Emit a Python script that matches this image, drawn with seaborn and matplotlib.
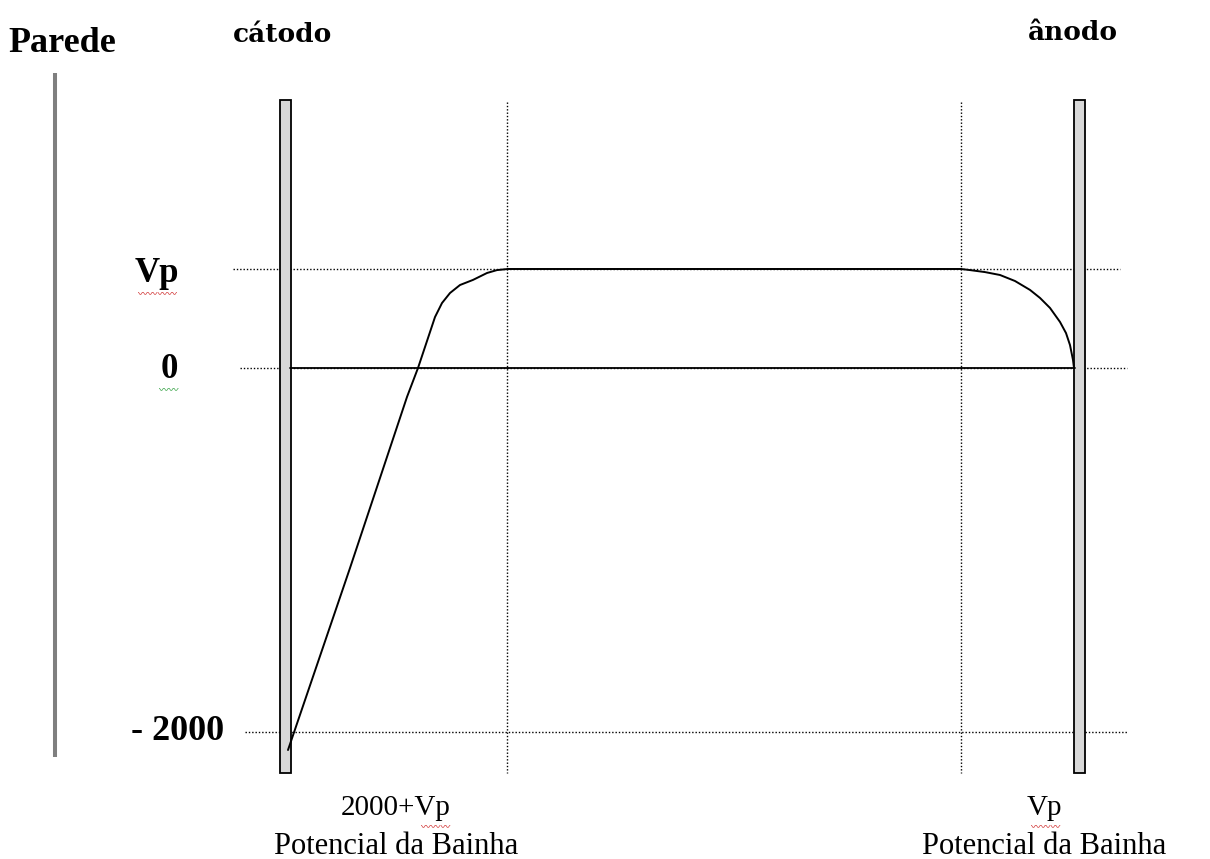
import numpy as np
import pandas as pd
import matplotlib
matplotlib.use("Agg")
import matplotlib.pyplot as plt
import seaborn as sns

# ---------------- data ----------------
# y values are potentials on the drawing scale (Vp drawn at ~544)
VP = 544
level_values = [VP, 0, -2000]
level_labels = ["Vp", "0", "- 2000"]

# potential profile between cathode and anode (position, potential)
profile_x = [288, 350, 407, 418, 435, 442, 450, 460, 473, 487, 497, 508,
             961, 970, 985, 1000, 1015, 1030, 1040, 1050, 1060, 1066, 1070, 1073, 1074]
profile_v = [-2099, -1099, -159, 0, 280, 357, 412, 456, 484, 522, 538, 544,
             544, 538, 527, 511, 478, 429, 385, 330, 253, 192, 126, 44, 0]

# electrodes
electrode_names = ["cátodo", "ânodo"]
electrode_x = [285, 1079.5]
electrode_w = [11, 11]
electrode_top = 1472
electrode_bottom = -2225

# sheath boundaries (vertical dotted lines)
sheath_x = [507, 961]
sheath_top = 1461
sheath_bottom = -2225

# dotted reference lines: (start, end) per level
ref_start = [233, 240, 245]
ref_end = [1120, 1127, 1128]

# solid zero line
zero_start, zero_end = 290, 1075

# wall
wall_x = 55
wall_top, wall_bottom = 1621, -2137

sheath_titles = ["2000+Vp", "Vp"]
sheath_sub = "Potencial da Bainha"
sheath_label_x = [396, 1044]

# ---------------- figure ----------------
sns.set_theme(style="white")
plt.rcParams["font.family"] = ["Liberation Serif", "DejaVu Serif"]
plt.rcParams["text.color"] = "black"

W, H = 1210, 859
fig = plt.figure(figsize=(W / 100, H / 100), dpi=100)
ax = fig.add_axes([0, 0, 1, 1])
Y_TOP = 368 * 2000 / 364
Y_BOT = (368 - H) * 2000 / 364

def py(p):
    """pixel row -> data y"""
    return (368 - p) * 2000 / 364

dot = (0, (1.0, 1.4))

# wall
ax.plot([wall_x, wall_x], [wall_top, wall_bottom], color="#7f7f7f", lw=2.9,
        solid_capstyle="butt")

# dotted horizontal reference lines
for v, s, e in zip(level_values, ref_start, ref_end):
    ax.plot([s, e], [v, v], color="black", lw=1.0, linestyle=dot)

# dotted sheath boundaries
for x in sheath_x:
    ax.plot([x, x], [sheath_top, sheath_bottom], color="black", lw=1.0, linestyle=dot)

# electrodes
ax.bar(electrode_x, electrode_top - electrode_bottom, width=electrode_w,
       bottom=electrode_bottom, color="#d8d8d8", edgecolor="black", linewidth=1.3,
       zorder=3)

# solid zero line
ax.plot([zero_start, zero_end], [0, 0], color="black", lw=1.3, zorder=4)

# potential profile
df = pd.DataFrame({"x": profile_x, "v": profile_v})
sns.lineplot(data=df, x="x", y="v", sort=False, color="black", lw=1.4, ax=ax,
             zorder=5)
ax.set_xlim(0, W)
ax.set_ylim(Y_BOT, Y_TOP)
ax.axis("off")

# titles
ax.text(8, py(43), "Parede", fontsize=26, fontweight="bold", ha="left",
        va="center", family=["Liberation Serif"], color="black")
ax.text(electrode_x[0] - 2, py(35), electrode_names[0], fontsize=19, fontweight="bold",
        ha="center", va="center", family=["DejaVu Serif"], color="black")
ax.text(electrode_x[1] - 7, py(32), electrode_names[1], fontsize=19, fontweight="bold",
        ha="center", va="center", family=["DejaVu Serif"], color="black")

# level labels
ax.text(157, py(273), level_labels[0], fontsize=25, fontweight="bold",
        ha="center", va="center", color="black")
ax.text(169, py(369), level_labels[1], fontsize=25, fontweight="bold",
        ha="center", va="center", color="black")
ax.text(224, py(731), level_labels[2], fontsize=26, fontweight="bold",
        ha="right", va="center", color="black")

# sheath labels
for xl, t in zip(sheath_label_x, sheath_titles):
    ax.text(xl, py(808), t, fontsize=21, ha="center", va="center", color="black")
    ax.text(xl, py(846), sheath_sub, fontsize=22, ha="center", va="center",
            color="black")

# spell-check squiggles
sq = dict(ha="center", va="center", family=["Noto Sans CJK SC"], fontsize=7)
ax.text(158, py(293), "〰〰〰〰", color="#d03030", **sq)
ax.text(169, py(389), "〰〰", color="#30a040", **sq)
ax.text(436, py(826), "〰〰〰", color="#d03030", **sq)
ax.text(1046, py(826), "〰〰〰", color="#d03030", **sq)

fig.savefig("out.png", dpi=100, facecolor="white")
